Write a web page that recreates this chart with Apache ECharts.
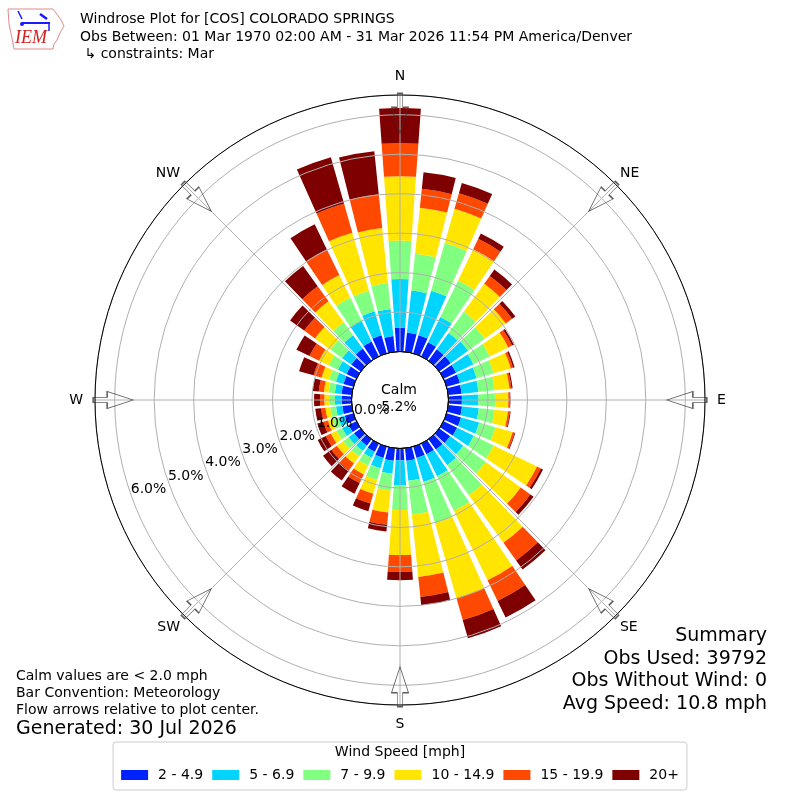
<!DOCTYPE html>
<html>
<head>
<meta charset="utf-8">
<title>Windrose Plot for [COS] COLORADO SPRINGS</title>
<script src="https://cdn.jsdelivr.net/npm/echarts@6/dist/echarts.min.js"></script>
<style>
  html, body { margin: 0; padding: 0; background: #fff; }
  #chart { width: 800px; height: 800px; }
</style>
</head>
<body>
<div id="chart"></div>
<script>
// wind direction sectors (deg, direction wind blows FROM)
const directions = [0, 10, 20, 30, 40, 50, 60, 70, 80, 90, 100, 110, 120, 130, 140, 150, 160, 170,
  180, 190, 200, 210, 220, 230, 240, 250, 260, 270, 280, 290, 300, 310, 320, 330, 340, 350];

const speedBins = ['2 - 4.9', '5 - 6.9', '7 - 9.9', '10 - 14.9', '15 - 19.9', '20+'];
const binColors = ['#0022ff', '#00d4ff', '#80ff80', '#ffe500', '#ff4800', '#7f0000'];

const pct2to5 = [0.60, 0.49, 0.48, 0.40, 0.36, 0.36, 0.35, 0.35, 0.34, 0.34, 0.35, 0.38, 0.38, 0.34, 0.32, 0.30, 0.30, 0.32,
  0.30, 0.32, 0.30, 0.23, 0.20, 0.21, 0.22, 0.23, 0.24, 0.25, 0.26, 0.26, 0.28, 0.30, 0.38, 0.42, 0.48, 0.40];
const pct5to7 = [1.24, 1.07, 1.17, 0.71, 0.51, 0.54, 0.49, 0.44, 0.43, 0.42, 0.43, 0.48, 0.47, 0.41, 0.49, 0.62, 0.63, 0.51,
  0.63, 0.33, 0.27, 0.17, 0.17, 0.17, 0.18, 0.17, 0.16, 0.17, 0.17, 0.20, 0.24, 0.28, 0.42, 0.58, 0.63, 0.69];
const pct7to10 = [0.97, 0.94, 1.26, 1.03, 0.66, 0.52, 0.46, 0.45, 0.41, 0.42, 0.40, 0.43, 0.56, 0.70, 0.94, 0.98, 1.08, 0.86,
  0.63, 0.43, 0.31, 0.22, 0.17, 0.17, 0.16, 0.15, 0.15, 0.15, 0.16, 0.18, 0.26, 0.37, 0.40, 0.65, 0.54, 0.66];
const pct10to15 = [1.63, 1.17, 0.90, 0.88, 0.88, 0.66, 0.52, 0.45, 0.38, 0.34, 0.34, 0.45, 1.22, 1.10, 1.49, 1.95, 1.98, 1.59,
  1.14, 0.56, 0.36, 0.25, 0.22, 0.20, 0.16, 0.12, 0.12, 0.12, 0.12, 0.20, 0.27, 0.48, 0.66, 0.64, 1.53, 1.40];
const pct15to20 = [0.84, 0.48, 0.41, 0.29, 0.24, 0.20, 0.11, 0.06, 0.05, 0.04, 0.05, 0.05, 0.11, 0.30, 0.55, 0.58, 0.58, 0.51,
  0.43, 0.31, 0.26, 0.24, 0.22, 0.17, 0.14, 0.12, 0.11, 0.11, 0.13, 0.21, 0.27, 0.34, 0.47, 0.73, 0.77, 0.86];
const pct20plus = [0.89, 0.42, 0.27, 0.15, 0.20, 0.10, 0.05, 0.04, 0.03, 0.01, 0.02, 0.02, 0.06, 0.10, 0.28, 0.47, 0.48, 0.21,
  0.21, 0.17, 0.20, 0.30, 0.31, 0.26, 0.23, 0.16, 0.15, 0.15, 0.16, 0.38, 0.37, 0.44, 0.63, 0.70, 1.22, 1.10];

const compassTicks = [0, 45, 90, 135, 180, 225, 270, 315];
const compassLabels = ['N', 'NE', 'E', 'SE', 'S', 'SW', 'W', 'NW'];
const calmPct = 5.2;

const binValues = [pct2to5, pct5to7, pct7to10, pct10to15, pct15to20, pct20plus];

// geometry
const FONT = 'DejaVu Sans';
const CENTER = [400, 400];
const R_CALM = 48.5, R_OUT = 305, R_MAX = 6.5;
const PX_PER_PCT = (R_OUT - R_CALM) / R_MAX;
const ARROW_R = 6.04;  // arrow centre, in % units
const ARROW = 'path://M5.8,0 L11.2,0 L11.2,14 L17,14 L8.5,40 L0,14 L5.8,14 Z';
const GRID = '#b0b0b0';

const off = { axisLine: { show: false }, axisTick: { show: false }, axisLabel: { show: false }, splitLine: { show: false } };

const chart = echarts.init(document.getElementById('chart'));

const txt = (text, x, y, size, align, extra) => ({
  type: 'text', silent: true, z: 100,
  style: Object.assign({ text, x, y, font: size + 'px "' + FONT + '"', fill: '#000',
    textAlign: align || 'left', textVerticalAlign: 'middle' }, extra || {})
});

// compass labels: cardinal and intercardinal sit at slightly different gaps from the rim
const compassAxis = (polarIndex, margin, keep) => Object.assign(
  { polarIndex, type: 'value', min: 0, max: 360, interval: 45, startAngle: 90, clockwise: true, z: 4 }, off, {
    axisLabel: {
      show: true, margin, color: '#000', fontFamily: FONT, fontSize: 14,
      formatter: v => { const i = compassTicks.indexOf(v); return (i < 0 || i % 2 !== keep) ? '' : compassLabels[i]; }
    }
  });

chart.setOption({
  animation: false,
  backgroundColor: '#fff',
  polar: [
    { center: CENTER, radius: [R_CALM, R_OUT] },                      // bars
    { center: CENTER, radius: [R_CALM, R_OUT] },                      // grid + arrows
    { center: CENTER, radius: [0, R_CALM] },                          // calm circle
    { center: CENTER, radius: [30, 30 + R_MAX * PX_PER_PCT] },        // ring labels
    { center: CENTER, radius: [R_CALM, R_OUT] },                      // N/E/S/W labels
    { center: CENTER, radius: [R_CALM, R_OUT] }                       // NE/SE/SW/NW labels
  ],
  angleAxis: [
    Object.assign({ polarIndex: 0, type: 'category', data: directions.map(String), startAngle: 95, clockwise: true }, off),
    Object.assign({ polarIndex: 1, type: 'value', min: 0, max: 360, interval: 45, startAngle: 90, clockwise: true, z: 4 }, off, {
      axisLine: { show: true, lineStyle: { color: '#000', width: 1 } },
      splitLine: { show: true, lineStyle: { color: GRID, width: 1 } }
    }),
    Object.assign({ polarIndex: 2, type: 'value', min: 0, max: 360, z: 4 }, off,
      { axisLine: { show: true, lineStyle: { color: '#000', width: 1 } } }),
    Object.assign({ polarIndex: 3, type: 'value', min: 0, max: 360, startAngle: 199.5 }, off),
    compassAxis(4, 12, 0),
    compassAxis(5, 6, 1)
  ],
  radiusAxis: [
    Object.assign({ polarIndex: 0, type: 'value', min: 0, max: R_MAX }, off),
    Object.assign({ polarIndex: 1, type: 'value', min: 0, max: R_MAX, interval: 1, z: 3 }, off,
      { splitLine: { show: true, lineStyle: { color: GRID, width: 1 } } }),
    Object.assign({ polarIndex: 2, type: 'value', min: 0, max: 1 }, off),
    Object.assign({ polarIndex: 3, type: 'value', min: 0, max: R_MAX, interval: 1, z: 5 }, off, {
      axisLabel: {
        show: true, margin: 0, color: '#000', fontFamily: FONT, fontSize: 14, align: 'center', verticalAlign: 'middle',
        formatter: v => Number.isInteger(v) ? v.toFixed(1) + '%' : ''
      }
    }),
    Object.assign({ polarIndex: 4, type: 'value', min: 0, max: R_MAX }, off),
    Object.assign({ polarIndex: 5, type: 'value', min: 0, max: R_MAX }, off)
  ],
  legend: {
    data: speedBins, selectedMode: false, icon: 'rect', itemWidth: 27, itemHeight: 10, itemGap: 9,
    left: 'center', top: 742, padding: [26, 8, 8, 8],
    borderColor: '#cccccc', borderWidth: 1, borderRadius: 3, backgroundColor: '#fff',
    textStyle: { fontFamily: FONT, fontSize: 14, color: '#000', padding: [0, 0, 0, 5] }
  },
  series: speedBins.map((name, i) => ({
    name, type: 'bar', coordinateSystem: 'polar', polarIndex: 0, stack: 'rose',
    barCategoryGap: '18%', silent: true, z: 2,
    itemStyle: { color: binColors[i] },
    data: binValues[i]
  })).concat([{
    type: 'scatter', coordinateSystem: 'polar', polarIndex: 1, silent: true, z: 6,
    symbol: ARROW, symbolSize: [17, 40],
    itemStyle: { color: 'rgba(255,255,255,0)', borderColor: '#333', borderWidth: 1 },
    data: compassTicks.map(b => ({ value: [ARROW_R, b], symbolRotate: -b }))
  }]),
  graphic: [
    // IEM logo
    { type: 'polyline', silent: true, shape: { points: [[8, 9], [53, 9], [56, 13], [61, 20], [64, 26], [60, 33], [57, 40], [54, 44], [53, 49], [14, 49], [12, 38], [9, 24], [8, 9]] },
      style: { stroke: '#e08a8a', lineWidth: 1, fill: null } },
    { type: 'line', silent: true, shape: { x1: 22, y1: 23, x2: 50, y2: 23 }, style: { stroke: '#1a1aff', lineWidth: 2 } },
    { type: 'line', silent: true, shape: { x1: 40, y1: 14, x2: 47, y2: 19 }, style: { stroke: '#1a1aff', lineWidth: 2.5 } },
    { type: 'line', silent: true, shape: { x1: 18, y1: 11, x2: 22, y2: 19 }, style: { stroke: '#1a1aff', lineWidth: 1.5 } },
    { type: 'line', silent: true, shape: { x1: 49, y1: 23, x2: 49, y2: 31 }, style: { stroke: '#1a1aff', lineWidth: 1.5 } },
    { type: 'circle', silent: true, shape: { cx: 22, cy: 24, r: 2 }, style: { fill: '#1a1aff' } },
    txt('IEM', 31, 38, 18, 'center', { font: 'italic 18px "Liberation Serif"', fill: '#d42020' }),
    // title block
    txt('Windrose Plot for [COS] COLORADO SPRINGS', 80, 19, 14),
    txt('Obs Between: 01 Mar 1970 02:00 AM - 31 Mar 2026 11:54 PM America/Denver', 80, 37, 14),
    txt(' \u21b3 constraints: Mar', 80, 54, 14),
    // calm
    txt('Calm', 399, 390, 14, 'center'),
    txt(calmPct.toFixed(1) + '%', 399, 407, 14, 'center'),
    // notes
    txt('Calm values are < 2.0 mph', 16, 676, 14),
    txt('Bar Convention: Meteorology', 16, 693, 14),
    txt('Flow arrows relative to plot center.', 16, 710, 14),
    txt('Generated: 30 Jul 2026', 16, 729, 19),
    // summary
    txt('Summary', 767, 636, 19, 'right'),
    txt('Obs Used: 39792', 767, 659, 19, 'right'),
    txt('Obs Without Wind: 0', 767, 681, 19, 'right'),
    txt('Avg Speed: 10.8 mph', 767, 704, 19, 'right'),
    // legend title
    txt('Wind Speed [mph]', 400, 752, 14, 'center')
  ]
});
</script>
</body>
</html>
